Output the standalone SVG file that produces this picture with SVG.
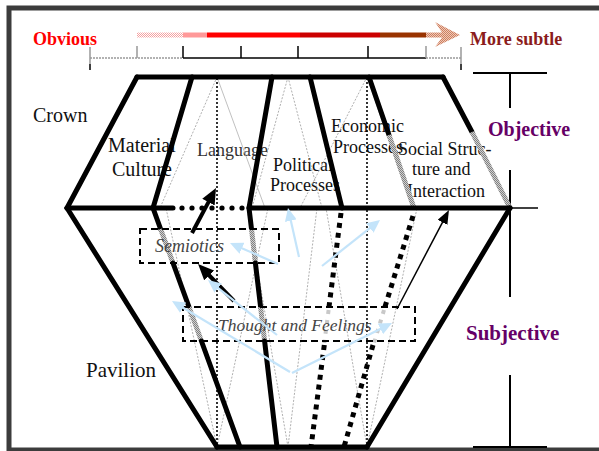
<svg xmlns="http://www.w3.org/2000/svg" width="599" height="451" viewBox="0 0 599 451">
<defs>
<pattern id="hatch" width="2" height="2" patternUnits="userSpaceOnUse"><rect width="2" height="2" fill="#d0d0d0"/><rect width="1" height="1" fill="#808080"/><rect x="1" y="1" width="1" height="1" fill="#808080"/></pattern>
<pattern id="pinkhatch" width="2" height="2" patternUnits="userSpaceOnUse"><rect width="2" height="2" fill="#ffffff"/><rect width="1" height="1" fill="#f4a0a0"/><rect x="1" y="1" width="1" height="1" fill="#f4a0a0"/></pattern>
<pattern id="tanhatch" width="2" height="2" patternUnits="userSpaceOnUse"><rect width="2" height="2" fill="#f0c8b8"/><rect width="1" height="1" fill="#cc8060"/><rect x="1" y="1" width="1" height="1" fill="#cc8060"/></pattern>
<marker id="ahB" viewBox="0 0 16 14" markerWidth="16" markerHeight="14" refX="2" refY="7" orient="auto" markerUnits="userSpaceOnUse"><path d="M0,0 L16,7 L0,14 z" fill="#000"/></marker>
<marker id="ahT" viewBox="0 0 14 11" markerWidth="14" markerHeight="11" refX="2" refY="5.5" orient="auto" markerUnits="userSpaceOnUse"><path d="M0,0 L14,5.5 L0,11 z" fill="#000"/></marker>
<marker id="ahL" viewBox="0 0 13 12" markerWidth="13" markerHeight="12" refX="2" refY="6" orient="auto" markerUnits="userSpaceOnUse"><path d="M0,0 L13,6 L0,12 z" fill="#c4e4fa"/></marker>
</defs>
<style>
.serif{font-family:"Liberation Serif","Times New Roman",serif}
.lbl{font-family:"Liberation Serif","Times New Roman",serif;fill:#111}
.ital{font-family:"Liberation Serif","Times New Roman",serif;font-style:italic;fill:#444}
.thick{stroke:#000;stroke-width:5;fill:none;stroke-linecap:round}
.hatch{stroke:url(#hatch);stroke-width:5;fill:none}
.facet{stroke:#9a9a9a;stroke-width:0.8;fill:none;stroke-dasharray:2 1.5}
.facet2{stroke:#b0b0b0;stroke-width:0.8;fill:none}
.vdot{stroke:#000;stroke-width:1.6;stroke-dasharray:2 2;fill:none}
.sqdot{stroke:#000;stroke-width:5;stroke-dasharray:5 5;fill:none}
.sqdotg{stroke:#c8c8c8;stroke-width:4;stroke-dasharray:4 6;fill:none}
.box{fill:none;stroke:#000;stroke-width:2;stroke-dasharray:7 4}
.blue{stroke:#c4e4fa;stroke-width:2.2;fill:none;marker-end:url(#ahL)}
.bk{font-weight:bold}
</style>
<rect x="0" y="0" width="599" height="451" fill="#fff"/>
<rect x="9" y="8" width="600" height="442" fill="none" stroke="#3c3c3c" stroke-width="5"/>

<g id="scale">
<text x="33" y="45" class="serif bk" font-size="18" fill="#ff0000">Obvious</text>
<text x="470" y="45" class="serif bk" font-size="18" fill="#8b1c1c">More subtle</text>
<rect x="137" y="32.5" width="46" height="5" fill="url(#pinkhatch)"/>
<rect x="183" y="32.5" width="24" height="5" fill="#ff9999"/>
<rect x="207" y="32.5" width="93" height="5" fill="#ff0000"/>
<rect x="300" y="32.5" width="80" height="5" fill="#cc0000"/>
<rect x="380" y="32.5" width="46" height="5" fill="#993300"/>
<path d="M426,32.5 L442,32.5 L435,22 L460,35 L435,47 L442,37.5 L426,37.5 z" fill="url(#tanhatch)"/>
<line x1="90" y1="58" x2="183" y2="58" stroke="#999" stroke-width="1.6" stroke-dasharray="2 1"/>
<line x1="183" y1="58" x2="426" y2="58" stroke="#000" stroke-width="1.6"/>
<line x1="426" y1="58" x2="461" y2="58" stroke="#999" stroke-width="1.6" stroke-dasharray="2 1"/>
<line x1="90" y1="47" x2="90" y2="64" stroke="#999" stroke-width="1.5"/>
<line x1="90" y1="64" x2="90" y2="70" stroke="#000" stroke-width="1.5"/>
<line x1="137" y1="46" x2="137" y2="58" stroke="#999" stroke-width="1.5"/>
<line x1="183" y1="46" x2="183" y2="58" stroke="#000" stroke-width="1.5"/>
<line x1="241" y1="46" x2="241" y2="58" stroke="#000" stroke-width="1.5"/>
<line x1="298" y1="46" x2="298" y2="58" stroke="#000" stroke-width="1.5"/>
<line x1="368" y1="46" x2="368" y2="58" stroke="#000" stroke-width="1.5"/>
<line x1="426" y1="46" x2="426" y2="58" stroke="#999" stroke-width="1.5"/>
<line x1="461" y1="47" x2="461" y2="64" stroke="#999" stroke-width="1.5"/>
<line x1="461" y1="64" x2="461" y2="70" stroke="#000" stroke-width="1.5"/>
</g>

<g id="bracket">
<line x1="473" y1="73" x2="547" y2="73" stroke="#000" stroke-width="2"/>
<line x1="510" y1="73" x2="510" y2="108" stroke="#000" stroke-width="2"/>
<line x1="510" y1="170" x2="510" y2="297" stroke="#000" stroke-width="2"/>
<line x1="510" y1="375" x2="510" y2="447" stroke="#000" stroke-width="2"/>
<line x1="473" y1="447" x2="547" y2="447" stroke="#000" stroke-width="2"/>
<line x1="510" y1="208" x2="538" y2="208" stroke="#000" stroke-width="1.5"/>
<text x="488" y="136" class="serif bk" font-size="20" fill="#660066">Objective</text>
<text x="466" y="340" class="serif bk" font-size="21" fill="#660066">Subjective</text>
</g>

<g id="labels">
<text x="33" y="122" class="lbl" font-size="20">Crown</text>
<text x="86" y="377" class="lbl" font-size="21">Pavilion</text>
<text x="108" y="152" class="lbl" font-size="20">Material</text>
<text x="112" y="176" class="lbl" font-size="20">Culture</text>
<text x="197" y="156" class="lbl" font-size="18" fill="#333" style="fill:#333">Language</text>
<text x="273" y="171" class="lbl" font-size="18">Political</text>
<text x="270" y="191" class="lbl" font-size="18">Processes</text>
<text x="331" y="132" class="lbl" font-size="18">Economic</text>
<text x="333" y="153" class="lbl" font-size="18">Processes</text>
<text x="398" y="155" class="lbl" font-size="18">Social Struc-</text>
<text x="412" y="175" class="lbl" font-size="18">ture and</text>
<text x="407" y="197" class="lbl" font-size="18">Interaction</text>
</g>

<g id="facets">
<line class="facet" x1="217" y1="77" x2="160" y2="208"/>
<line class="facet2" x1="217" y1="77" x2="265" y2="208"/>
<line class="facet" x1="288" y1="77" x2="252" y2="208"/>
<line class="facet" x1="288" y1="77" x2="322" y2="208"/>
<line class="facet" x1="367" y1="77" x2="300" y2="208"/>
<line class="facet2" x1="367" y1="77" x2="412" y2="208"/>
<line class="facet" x1="217" y1="447" x2="166" y2="208"/>
<line class="facet" x1="217" y1="447" x2="268" y2="208"/>
<line class="facet" x1="288" y1="447" x2="247" y2="208"/>
<line class="facet" x1="288" y1="447" x2="317" y2="208"/>
<line class="facet" x1="367" y1="447" x2="326" y2="208"/>
<line class="facet" x1="367" y1="447" x2="417" y2="208"/>
<line class="vdot" x1="217" y1="78" x2="217" y2="446"/>
<line class="vdot" x1="367" y1="78" x2="367" y2="446"/>
</g>

<g id="crystal">
<line class="thick" x1="137" y1="77" x2="443" y2="77"/>
<line class="thick" x1="137" y1="77" x2="67" y2="208"/>
<line class="thick" x1="192" y1="77" x2="153" y2="208"/>
<line class="thick" x1="272" y1="77" x2="249" y2="208"/>
<line class="thick" x1="310" y1="77" x2="342" y2="208"/>
<line class="thick" x1="369" y1="77" x2="389" y2="135"/>
<line class="hatch" x1="389" y1="135" x2="414" y2="208"/>
<line class="thick" x1="443" y1="77" x2="472" y2="132"/>
<line class="hatch" x1="472" y1="132" x2="510" y2="208"/>
<line class="thick" x1="67" y1="208" x2="173" y2="208"/>
<g fill="#000"><circle cx="182" cy="208" r="2.6"/><circle cx="192" cy="208" r="2.6"/><circle cx="202" cy="208" r="2.6"/><circle cx="212" cy="208" r="2.6"/><circle cx="222" cy="208" r="2.6"/><circle cx="232" cy="208" r="2.6"/><circle cx="242" cy="208" r="2.6"/></g>
<line class="thick" x1="252" y1="208" x2="510" y2="208"/>
<line class="thick" x1="67" y1="208" x2="217" y2="447"/>
<line class="thick" x1="510" y1="208" x2="367" y2="447"/>
<line class="thick" x1="217" y1="447" x2="367" y2="447"/>
<line class="thick" x1="153" y1="208" x2="160.6" y2="229"/>
<line class="hatch" x1="160.6" y1="229" x2="173" y2="263"/>
<line class="thick" x1="173" y1="263" x2="189" y2="307"/>
<line class="hatch" x1="189" y1="307" x2="201.4" y2="341"/>
<line class="thick" x1="201.4" y1="341" x2="240" y2="447"/>
<line class="thick" x1="249" y1="208" x2="251.5" y2="229"/>
<line class="hatch" x1="251.5" y1="229" x2="255.4" y2="263"/>
<line class="thick" x1="255.4" y1="263" x2="260.6" y2="307"/>
<line class="hatch" x1="260.6" y1="307" x2="264.6" y2="341"/>
<line class="thick" x1="264.6" y1="341" x2="277" y2="447"/>
<line class="sqdot" x1="341" y1="213" x2="328.6" y2="310"/>
<line class="sqdotg" x1="328.6" y1="310" x2="324.3" y2="343"/>
<line class="sqdot" x1="324.3" y1="345" x2="311" y2="447"/>
<line class="sqdot" x1="413" y1="216" x2="384" y2="310"/>
<line class="sqdotg" x1="384" y1="310" x2="374" y2="343"/>
<line class="sqdot" x1="373" y1="345" x2="344" y2="447"/>
</g>

<g id="semiotics">
<rect class="box" x="140" y="229" width="139" height="34"/>
<text x="155" y="252" class="ital" font-size="18">Semiotics</text>
</g>
<g id="thought">
<rect class="box" x="183" y="307" width="232" height="34"/>
<text x="218" y="331" class="ital" font-size="17.5">Thought and Feelings</text>
</g>

<g id="connectors">
<line x1="192" y1="233" x2="209.4" y2="200.4" stroke="#000" stroke-width="4" marker-end="url(#ahB)"/>
<line x1="234" y1="301" x2="207.8" y2="274" stroke="#000" stroke-width="4" marker-end="url(#ahB)"/>
<line x1="397" y1="309" x2="443.4" y2="220.6" stroke="#000" stroke-width="1.5" marker-end="url(#ahT)"/>
<line class="blue" x1="278" y1="264" x2="240.1" y2="247.4"/>
<line class="blue" x1="299" y1="257" x2="290.4" y2="218.7"/>
<line class="blue" x1="322" y1="266" x2="371.4" y2="226.8"/>
<line class="blue" x1="277" y1="335" x2="216.6" y2="286.9"/>
<line class="blue" x1="290" y1="372" x2="181.4" y2="306.7"/>
<line class="blue" x1="292" y1="373" x2="382.2" y2="327.9"/>
</g>
</svg>
